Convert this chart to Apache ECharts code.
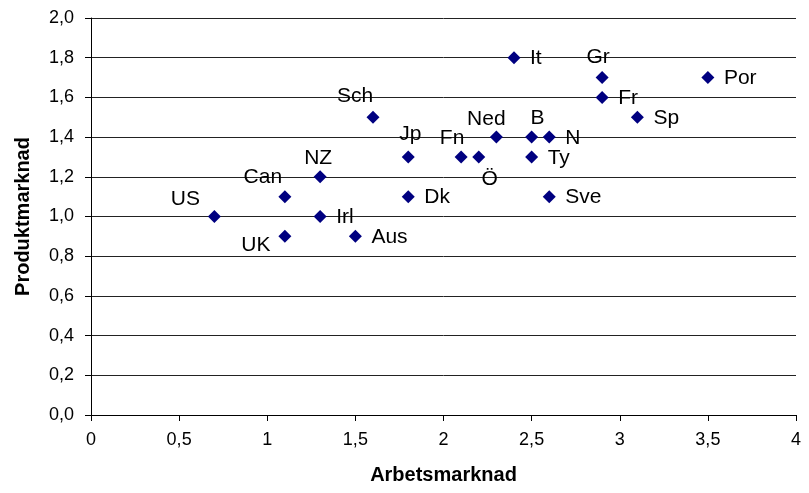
<!DOCTYPE html>
<html>
<head>
<meta charset="utf-8">
<script src="https://cdn.jsdelivr.net/npm/echarts@6/dist/echarts.min.js"></script>
<style>
  html, body { margin: 0; padding: 0; background: #fff; }
  #chart { width: 809px; height: 493px; }
</style>
</head>
<body>
<div id="chart"></div>
<script>
// Regleringsgrad per land: arbetsmarknad (x) mot produktmarknad (y)
const countries = ['US', 'Can', 'UK', 'NZ', 'Irl', 'Aus', 'Sch', 'Jp', 'Dk', 'Fn', 'Ö',
  'Ned', 'It', 'B', 'N', 'Ty', 'Sve', 'Gr', 'Fr', 'Sp', 'Por'];
const arbetsmarknad = [0.7, 1.1, 1.1, 1.3, 1.3, 1.5, 1.6, 1.8, 1.8, 2.1, 2.2,
  2.3, 2.4, 2.5, 2.6, 2.5, 2.6, 2.9, 2.9, 3.1, 3.5];
const produktmarknad = [1.0, 1.1, 0.9, 1.2, 1.0, 0.9, 1.5, 1.3, 1.1, 1.3, 1.3,
  1.4, 1.8, 1.4, 1.4, 1.3, 1.1, 1.7, 1.6, 1.5, 1.7];

// Where each country label sits relative to its marker centre (px);
// labels not listed here go to the right of the marker.
const labelOffset = {
  US: [-29, -17], Can: [-22, -19], UK: [-29, 9], NZ: [-2, -19],
  Sch: [-18, -21], Jp: [2, -23], Fn: [-9, -19], 'Ö': [11, 22],
  Ned: [-10, -18], B: [6, -19], Gr: [-4, -20]
};

const SYMBOL_SIZE = 13;
const half = SYMBOL_SIZE / 2;

const points = countries.map((name, i) => {
  const off = labelOffset[name];
  return {
    name: name,
    value: [arbetsmarknad[i], produktmarknad[i]],
    label: off
      ? { position: [half + off[0], half + off[1]], align: 'center', verticalAlign: 'middle' }
      : { position: [half + 16, half + 1], align: 'left', verticalAlign: 'middle' }
  };
});

const chart = echarts.init(document.getElementById('chart'), null, { renderer: 'canvas' });
chart.setOption({
  animation: false,
  backgroundColor: '#ffffff',
  grid: { left: 91, right: 13, top: 18, bottom: 78, containLabel: false },
  xAxis: {
    type: 'value', min: 0, max: 4, interval: 0.5,
    name: 'Arbetsmarknad', nameLocation: 'middle', nameGap: 50,
    nameTextStyle: { fontFamily: 'Liberation Sans', fontWeight: 'bold', fontSize: 20, color: '#000' },
    axisLine: { show: true, onZero: false, lineStyle: { color: '#000', width: 1 } },
    axisTick: { show: true, length: 6, lineStyle: { color: '#000' } },
    axisLabel: { formatter: v => String(v).replace('.', ','), margin: 16, fontFamily: 'Liberation Sans', fontSize: 18, color: '#000' },
    splitLine: { show: false }
  },
  yAxis: {
    type: 'value', min: 0, max: 2, interval: 0.2,
    name: 'Produktmarknad', nameLocation: 'middle', nameGap: 58, nameRotate: 90,
    nameTextStyle: { fontFamily: 'Liberation Sans', fontWeight: 'bold', fontSize: 20, color: '#000' },
    axisLine: { show: true, onZero: false, lineStyle: { color: '#000', width: 1 } },
    axisTick: { show: true, inside: false, length: 6, lineStyle: { color: '#000' } },
    axisLabel: { formatter: v => v.toFixed(1).replace('.', ','), margin: 17, fontFamily: 'Liberation Sans', fontSize: 18, color: '#000' },
    splitLine: { show: true, lineStyle: { color: '#222', width: 1 } }
  },
  series: [{
    type: 'scatter',
    symbol: 'diamond',
    symbolSize: SYMBOL_SIZE,
    itemStyle: { color: '#000080', opacity: 1 },
    label: {
      show: true,
      formatter: p => p.name,
      fontFamily: 'Liberation Sans',
      fontSize: 21,
      color: '#000'
    },
    labelLayout: { hideOverlap: false },
    data: points
  }]
});
</script>
</body>
</html>
